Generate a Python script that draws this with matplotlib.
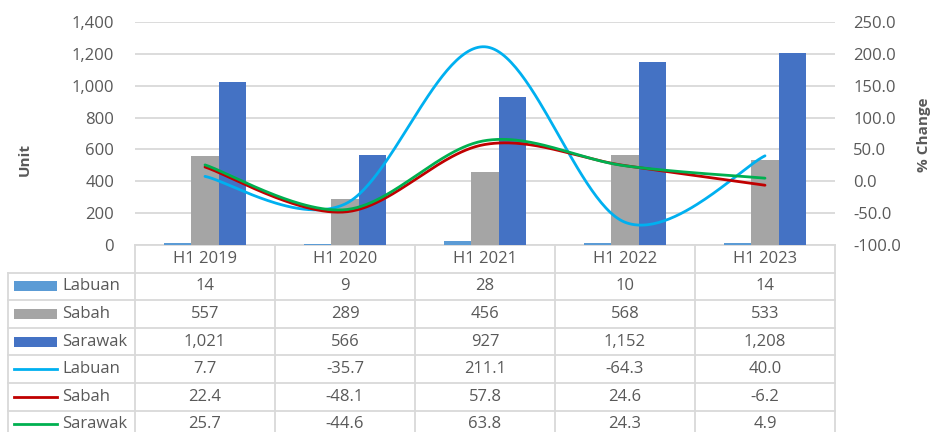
import numpy as np
import matplotlib
matplotlib.use("Agg")
import matplotlib.pyplot as plt
from matplotlib.transforms import blended_transform_factory
from matplotlib.patches import Rectangle
from matplotlib.lines import Line2D
from matplotlib.ticker import FuncFormatter, MultipleLocator

plt.rcParams['font.family'] = ['Open Sans', 'DejaVu Sans']

categories = ["H1 2019", "H1 2020", "H1 2021", "H1 2022", "H1 2023"]
units_labuan = [14, 9, 28, 10, 14]
units_sabah = [557, 289, 456, 568, 533]
units_sarawak = [1021, 566, 927, 1152, 1208]
chg_labuan = [7.7, -35.7, 211.1, -64.3, 40.0]
chg_sabah = [22.4, -48.1, 57.8, 24.6, -6.2]
chg_sarawak = [25.7, -44.6, 63.8, 24.3, 4.9]
series_names = ["Labuan", "Sabah", "Sarawak"]

BAR_COLORS = ["#5B9BD5", "#A5A5A5", "#4472C4"]
LINE_COLORS = ["#00B0F0", "#C00000", "#00B050"]
TXT = "#595959"
GRID = "#D9D9D9"
FS = 12

W, H = 932, 432
fig = plt.figure(figsize=(W / 100, H / 100), dpi=100)


def fy(px):
    """Figure fraction from a pixel row measured from the top."""
    return 1 - px / H


ax_left, ax_right, ax_top, ax_bot = 135, 835, 22, 245
ax = fig.add_axes([ax_left / W, fy(ax_bot), (ax_right - ax_left) / W,
                   (ax_bot - ax_top) / H])
ax2 = ax.twinx()

n = len(categories)
x = np.arange(n)
ax.set_xlim(-0.5, n - 0.5)
ax.set_ylim(0, 1400)
ax2.set_ylim(-100, 250)

# bars
bw = 0.195
for k, (vals, col) in enumerate(zip([units_labuan, units_sabah, units_sarawak], BAR_COLORS)):
    ax.bar(x + (k - 1) * bw, vals, width=bw, color=col, linewidth=0, zorder=3)


def smooth(xs, ys, steps=60):
    """Catmull-Rom curve through the points (Excel-like smoothed line)."""
    xs = np.asarray(xs, float)
    ys = np.asarray(ys, float)
    px = np.concatenate([[xs[0]], xs, [xs[-1]]])
    py = np.concatenate([[ys[0]], ys, [ys[-1]]])
    t = np.linspace(0, 1, steps)
    ox, oy = [], []
    for i in range(1, len(px) - 2):
        for arr, out in ((px, ox), (py, oy)):
            p0, p1, p2, p3 = arr[i - 1], arr[i], arr[i + 1], arr[i + 2]
            seg = 0.5 * (2 * p1 + (-p0 + p2) * t
                         + (2 * p0 - 5 * p1 + 4 * p2 - p3) * t ** 2
                         + (-p0 + 3 * p1 - 3 * p2 + p3) * t ** 3)
            out.extend(seg if i == 1 else seg[1:])
    return np.array(ox), np.array(oy)


for vals, col in zip([chg_labuan, chg_sabah, chg_sarawak], LINE_COLORS):
    sx, sy = smooth(x, vals)
    ax2.plot(sx, sy, color=col, lw=2, zorder=4, solid_capstyle='round')

# axes styling
ax.yaxis.set_major_locator(MultipleLocator(200))
ax.yaxis.set_major_formatter(FuncFormatter(lambda v, p: f"{v:,.0f}"))
ax2.yaxis.set_major_locator(MultipleLocator(50))
ax2.yaxis.set_major_formatter(FuncFormatter(lambda v, p: f"{v:.1f}"))
ax.grid(axis='y', color=GRID, lw=1.3, zorder=0)
ax.set_axisbelow(True)
for a in (ax, ax2):
    for s in a.spines.values():
        s.set_visible(False)
ax.spines['bottom'].set_visible(True)
ax.spines['bottom'].set_color(GRID)
ax.spines['bottom'].set_linewidth(1.3)
ax.tick_params(axis='y', length=0, pad=15, labelsize=FS, labelcolor=TXT)
ax2.tick_params(axis='y', length=0, pad=13, labelsize=FS, labelcolor=TXT)
ax.set_xticks(x)
ax.set_xticklabels(categories)
ax.tick_params(axis='x', length=0, pad=4, labelsize=FS, labelcolor=TXT)

fig.text(25 / W, fy(160), "Unit", rotation=90, ha='center', va='center',
         fontsize=11, fontweight='bold', color=TXT)
fig.text(924 / W, fy(135), "% Change", rotation=90, ha='center', va='center',
         fontsize=11, fontweight='bold', color=TXT)

# data table beneath the chart
tr = blended_transform_factory(ax.transData, fig.transFigure)
left_edge = -0.5 - (ax_left - 8) / 140
row_tops = [272.5 + 27.6 * i for i in range(7)]
for ypx in row_tops:
    fig.add_artist(Line2D([left_edge, n - 0.5], [fy(ypx)] * 2, transform=tr,
                          color=GRID, lw=1.3))
for xv in np.arange(-0.5, n, 1.0):
    fig.add_artist(Line2D([xv, xv], [fy(ax_bot), fy(440)], transform=tr,
                          color=GRID, lw=1.3))
fig.add_artist(Line2D([left_edge, left_edge], [fy(row_tops[0]), fy(440)],
                      transform=tr, color=GRID, lw=1.3))

rows = [units_labuan, units_sabah, units_sarawak,
        chg_labuan, chg_sabah, chg_sarawak]
key_x0 = -0.5 - (ax_left - 14) / 140
key_x1 = -0.5 - (ax_left - 57) / 140
label_x = -0.5 - (ax_left - 62) / 140
for r, vals in enumerate(rows):
    yc = fy(row_tops[r] + 13.8)
    name = series_names[r % 3]
    if r < 3:
        fig.add_artist(Rectangle((key_x0, yc - 5 / H), key_x1 - key_x0, 10 / H,
                                 transform=tr, color=BAR_COLORS[r], lw=0))
        fmt = lambda v: f"{v:,.0f}"
    else:
        fig.add_artist(Line2D([key_x0, key_x1], [yc, yc], transform=tr,
                              color=LINE_COLORS[r - 3], lw=2))
        fmt = lambda v: f"{v:.1f}"
    fig.text(label_x, yc, name, transform=tr, ha='left', va='center',
             fontsize=FS, color=TXT)
    for c, v in enumerate(vals):
        fig.text(c, yc, fmt(v), transform=tr, ha='center', va='center',
                 fontsize=FS, color=TXT)

fig.savefig("out.png", dpi=100)
